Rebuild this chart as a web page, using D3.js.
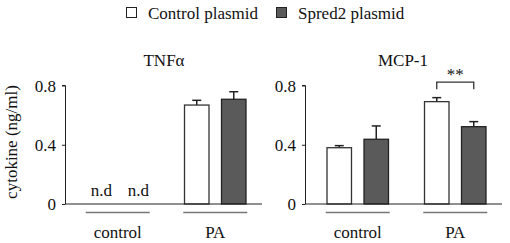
<!DOCTYPE html>
<html><head><meta charset="utf-8">
<script src="https://cdn.jsdelivr.net/npm/d3@7"></script>
</head><body style="margin:0;background:#fff">
<script>
const groups = ["control", "PA"];
const series = ["Control plasmid", "Spred2 plasmid"];
const panels = ["TNFα", "MCP-1"];
const yTicks = [0, 0.4, 0.8];
const yTickLabels = ["0", "0.4", "0.8"];
// values [group][series]; null = not detected
const tnfValues = [[null, null], [0.668, 0.707]];
const tnfErrors = [[null, null], [0.032, 0.051]];
const mcpValues = [[0.380, 0.437], [0.691, 0.522]];
const mcpErrors = [[0.014, 0.090], [0.027, 0.034]];
const significance = [null, {group: "PA", label: "**"}];

const W = 510, H = 243;
const FONT = "Liberation Serif";
const svg = d3.select("body").append("svg").attr("width", W).attr("height", H).style("display", "block");
const txt = (sel) => sel.append("text").style("font-family", FONT).style("font-size", "17px").attr("fill", "#111");
const y = d3.scaleLinear().domain([0, 0.8]).range([204, 85.5]);
const fills = ["#ffffff", "#5a5a5a"];
const strokes = ["#333", "#222"];
const axisX = [65.5, 305.5];
const titleX = [164, 403];
const allValues = [tnfValues, mcpValues];
const allErrors = [tnfErrors, mcpErrors];

// legend
const legX = [126.5, 276.5];
series.forEach((s, i) => {
  svg.append("rect").attr("x", legX[i]).attr("y", 7.5).attr("width", 10).attr("height", 10)
    .attr("fill", fills[i]).attr("stroke", "#222").attr("stroke-width", 1);
  txt(svg).attr("x", legX[i] + 21.5).attr("y", 18.5).text(s);
});

// y label
txt(svg).attr("transform", "translate(17,142) rotate(-90)").attr("text-anchor", "middle").text("cytokine (ng/ml)");

panels.forEach((p, pi) => {
  const x0 = axisX[pi];
  const xg = d3.scaleBand().domain(groups).range([x0 + 3.5, x0 + 198.5]);
  const xs = d3.scaleBand().domain(series).range([-37, 37]).paddingInner(0.338).paddingOuter(0.169);
  const g = svg.append("g");

  txt(g).attr("x", titleX[pi]).attr("y", 66).attr("text-anchor", "middle").text(p);

  // axis
  const ax = g.append("g").attr("transform", `translate(${x0},0)`)
    .call(d3.axisLeft(y).tickValues(yTicks).tickFormat((d, i) => yTickLabels[i]).tickSize(3.5).tickPadding(6));
  ax.select(".domain").attr("stroke", "#222").attr("d", `M-3.5,${y(0.8)}H0V${y(0)}`);
  ax.selectAll(".tick line").attr("stroke", "#222");
  ax.selectAll(".tick text").style("font-family", FONT).style("font-size", "17px").attr("fill", "#111").attr("dy", "0.34em");

  const vals = allValues[pi], errs = allErrors[pi];
  groups.forEach((gr, gi) => {
    const c = xg(gr) + xg.bandwidth() / 2;
    series.forEach((s, si) => {
      const v = vals[gi][si], e = errs[gi][si];
      const bx = c + xs(s), bw = xs.bandwidth(), bc = bx + bw / 2;
      if (v === null) {
        txt(g).attr("x", bc + 2).attr("y", 196).attr("text-anchor", "middle").text("n.d");
        return;
      }
      g.append("line").attr("x1", bc).attr("x2", bc).attr("y1", y(v)).attr("y2", y(v + e)).attr("stroke", "#222").attr("stroke-width", 1.5);
      g.append("line").attr("x1", bc - 4.5).attr("x2", bc + 4.5).attr("y1", y(v + e)).attr("y2", y(v + e)).attr("stroke", "#222").attr("stroke-width", 1.5);
      g.append("rect").attr("x", bx).attr("y", y(v)).attr("width", bw).attr("height", y(0) - y(v))
        .attr("fill", fills[si]).attr("stroke", strokes[si]).attr("stroke-width", 1.3);
    });
    // group underline
    g.append("line").attr("x1", c - 32).attr("x2", c + 32).attr("y1", 212.5).attr("y2", 212.5)
      .attr("stroke", "#777").attr("stroke-width", 1.5);
    txt(g).attr("x", c).attr("y", 238).attr("text-anchor", "middle").text(gr);

    const sig = significance[pi];
    if (sig && sig.group === gr) {
      const c1 = c + xs(series[0]) + xs.bandwidth() / 2, c2 = c + xs(series[1]) + xs.bandwidth() / 2;
      const top = d3.max(series, (s, si) => vals[gi][si] + errs[gi][si]);
      const yb = y(top) - 8.5, yt = yb - 7;
      g.append("path").attr("d", `M${c1},${yb}V${yt}H${c2}V${yb}`).attr("fill", "none").attr("stroke", "#333").attr("stroke-width", 1.3);
      txt(g).attr("x", (c1 + c2) / 2).attr("y", 80).attr("text-anchor", "middle").text(sig.label);
    }
  });

  // baseline
  g.append("line").attr("x1", x0).attr("x2", x0 + 196.5).attr("y1", y(0)).attr("y2", y(0)).attr("stroke", "#222").attr("stroke-width", 1);
});
</script>
</body></html>
